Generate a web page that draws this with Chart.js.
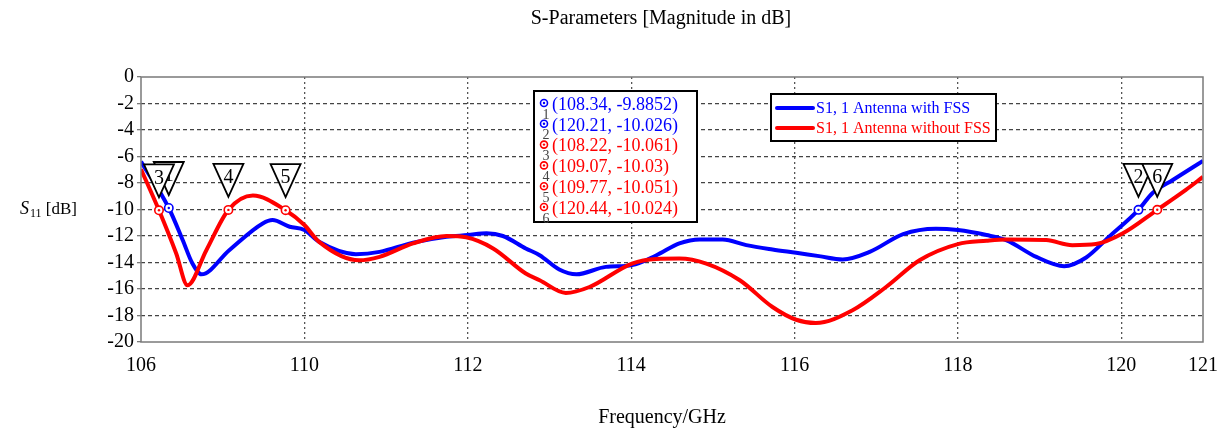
<!DOCTYPE html>
<html>
<head>
<meta charset="utf-8">
<script src="https://cdn.jsdelivr.net/npm/chart.js@4/dist/chart.umd.min.js"></script>
<style>
  html, body { margin: 0; padding: 0; background: #fff; }
  #wrap { width: 1225px; height: 432px; }
</style>
</head>
<body>
<div id="wrap"><canvas id="c" width="1225" height="432"></canvas></div>
<script>
// S11 of the antenna with the FSS layer
const freqWithFSS = [108.0, 108.34, 108.51, 108.63, 108.74, 109.08, 109.49, 109.61, 109.82, 110.0,
  110.18, 110.63, 110.92, 111.33, 111.74, 112.0, 112.23, 112.43, 112.71, 112.88,
  113.12, 113.33, 113.69, 114.01, 114.31, 114.59, 114.84, 115.12, 115.41, 115.73,
  116.02, 116.3, 116.59, 116.92, 117.33, 117.73, 118.0, 118.35, 118.59, 118.96,
  119.3, 119.57, 119.85, 120.21, 120.38, 120.63, 121.0];
const s11WithFSS = [-6.38, -9.8852, -12.3, -14.08, -14.89, -13.07, -11.05, -10.8, -11.3, -11.55,
  -12.44, -13.37, -13.2, -12.5, -12.06, -11.93, -11.8, -12.0, -12.94, -13.45,
  -14.53, -14.89, -14.33, -14.2, -13.45, -12.56, -12.26, -12.26, -12.69, -13.02,
  -13.27, -13.52, -13.77, -13.2, -11.86, -11.45, -11.55, -11.93, -12.31, -13.58,
  -14.28, -13.62, -12.06, -10.026, -8.77, -7.77, -6.33];

// S11 of the bare antenna
const freqNoFSS = [108.0, 108.22, 108.43, 108.57, 108.8, 109.07, 109.37, 109.77, 110.0, 110.18,
  110.67, 110.92, 111.33, 111.74, 111.98, 112.31, 112.71, 112.88, 113.2, 113.49,
  114.01, 114.31, 114.59, 114.92, 115.33, 115.73, 116.02, 116.26, 116.71, 117.12,
  117.53, 118.0, 118.35, 118.59, 119.08, 119.4, 119.69, 120.02, 120.44, 120.79, 121.0];
const s11NoFSS = [-6.96, -10.061, -13.3, -15.72, -13.07, -10.03, -8.95, -10.051, -11.17, -12.44,
  -13.83, -13.57, -12.56, -12.0, -12.1, -12.94, -14.83, -15.34, -16.3, -15.85,
  -14.08, -13.73, -13.7, -14.08, -15.34, -17.36, -18.32, -18.57, -17.6, -15.85,
  -13.83, -12.61, -12.36, -12.26, -12.31, -12.69, -12.61, -11.8, -10.024, -8.52, -7.54];

const seriesLabels = ['S1, 1 Antenna with FSS', 'S1, 1 Antenna without FSS'];
const seriesColors = ['#0000ff', '#ff0000'];

// -10 dB crossing markers
const markerIds = [1, 2, 3, 4, 5, 6];
const markerFreq = [108.34, 120.21, 108.22, 109.07, 109.77, 120.44];
const markerS11 = [-9.8852, -10.026, -10.061, -10.03, -10.051, -10.024];
const markerSeries = [0, 0, 1, 1, 1, 1];

// axis ticks
const xTickValues = [108, 110, 112, 114, 116, 118, 120, 121];
const xTickLabels = ['106', '110', '112', '114', '116', '118', '120', '121'];
const xRange = [108, 121];
const yRange = [-20, 0];
const yStep = 2;

const chartTitle = 'S-Parameters [Magnitude in dB]';
const xTitle = 'Frequency/GHz';
const yTitleParts = ['S', '11', ' [dB]'];

const SERIF = "'Liberation Serif', 'Times New Roman', serif";
Chart.defaults.font.family = SERIF;
Chart.defaults.color = '#000';

function toPoints(xs, ys) { return xs.map((x, i) => ({ x: x, y: ys[i] })); }

function drawMarkerDot(ctx, x, y, color, r) {
  ctx.beginPath();
  ctx.arc(x, y, r, 0, Math.PI * 2);
  ctx.fillStyle = '#fff';
  ctx.fill();
  ctx.lineWidth = 1.6;
  ctx.strokeStyle = color;
  ctx.stroke();
  ctx.beginPath();
  ctx.arc(x, y, 1.2, 0, Math.PI * 2);
  ctx.fillStyle = color;
  ctx.fill();
}

function drawFlag(ctx, x, y, id) {
  const w = 30, h = 33, gap = 13;
  const tipY = y - gap, topY = tipY - h;
  ctx.beginPath();
  ctx.moveTo(x - w / 2, topY);
  ctx.lineTo(x + w / 2, topY);
  ctx.lineTo(x, tipY);
  ctx.closePath();
  ctx.fillStyle = '#fff';
  ctx.fill();
  ctx.lineWidth = 1.8;
  ctx.strokeStyle = '#000';
  ctx.stroke();
  ctx.fillStyle = '#000';
  ctx.font = '20px ' + SERIF;
  ctx.textAlign = 'center';
  ctx.textBaseline = 'middle';
  ctx.fillText(String(id), x, topY + 14);
}

const decor = {
  id: 'decor',
  beforeDraw(chart) {
    const ctx = chart.ctx;
    ctx.save();
    ctx.fillStyle = '#fff';
    ctx.fillRect(0, 0, chart.width, chart.height);
    ctx.restore();
  },
  afterDatasetsDraw(chart) {
    const ctx = chart.ctx;
    const a = chart.chartArea;
    const xs = chart.scales.x, ys = chart.scales.y;
    ctx.save();

    // plot frame
    ctx.strokeStyle = '#7a7a7a';
    ctx.lineWidth = 1.5;
    ctx.setLineDash([]);
    ctx.strokeRect(a.left, a.top, a.right - a.left, a.bottom - a.top);

    // flags then marker dots
    markerIds.forEach((id, i) => {
      drawFlag(ctx, xs.getPixelForValue(markerFreq[i]), ys.getPixelForValue(markerS11[i]), id);
    });
    markerIds.forEach((id, i) => {
      drawMarkerDot(ctx, xs.getPixelForValue(markerFreq[i]), ys.getPixelForValue(markerS11[i]),
        seriesColors[markerSeries[i]], 4.2);
    });

    // marker readout table
    const bx = 534, by = 91, bw = 163, bh = 131, row = 20.8;
    ctx.fillStyle = '#fff';
    ctx.fillRect(bx, by, bw, bh);
    ctx.lineWidth = 2;
    ctx.strokeStyle = '#000';
    ctx.strokeRect(bx, by, bw, bh);
    markerIds.forEach((id, i) => {
      const cy = by + 13 + i * row;
      const col = seriesColors[markerSeries[i]];
      drawMarkerDot(ctx, bx + 10, cy - 1, col, 3.5);
      ctx.fillStyle = '#444';
      ctx.font = '14px ' + SERIF;
      ctx.textAlign = 'center';
      ctx.textBaseline = 'middle';
      ctx.fillText(String(id), bx + 12, cy + 11);
      ctx.fillStyle = col;
      ctx.font = '18px ' + SERIF;
      ctx.textAlign = 'left';
      ctx.fillText('(' + markerFreq[i] + ', ' + markerS11[i] + ')', bx + 18, cy + 1);
    });

    // legend box
    const lx = 771, ly = 94, lw = 225, lh = 47;
    ctx.fillStyle = '#fff';
    ctx.fillRect(lx, ly, lw, lh);
    ctx.lineWidth = 2;
    ctx.strokeStyle = '#000';
    ctx.strokeRect(lx, ly, lw, lh);
    seriesLabels.forEach((lab, i) => {
      const cy = ly + 14 + i * 20;
      ctx.strokeStyle = seriesColors[i];
      ctx.lineWidth = 4;
      ctx.lineCap = 'round';
      ctx.beginPath();
      ctx.moveTo(lx + 6, cy);
      ctx.lineTo(lx + 42, cy);
      ctx.stroke();
      ctx.fillStyle = seriesColors[i];
      ctx.font = '16px ' + SERIF;
      ctx.textAlign = 'left';
      ctx.textBaseline = 'middle';
      ctx.fillText(lab, lx + 45, cy + 1);
    });

    // titles
    ctx.fillStyle = '#000';
    ctx.textBaseline = 'middle';
    ctx.textAlign = 'center';
    ctx.font = '20px ' + SERIF;
    ctx.fillText(chartTitle, 661, 19);
    ctx.fillText(xTitle, 662, 418);

    // y-axis title with subscript
    ctx.textAlign = 'left';
    ctx.textBaseline = 'alphabetic';
    let tx = 20;
    const base = 214;
    ctx.font = 'italic 18px ' + SERIF;
    ctx.fillText(yTitleParts[0], tx, base);
    tx += ctx.measureText(yTitleParts[0]).width + 1;
    ctx.font = '12px ' + SERIF;
    ctx.fillText(yTitleParts[1], tx, base + 3);
    tx += ctx.measureText(yTitleParts[1]).width;
    ctx.font = '17px ' + SERIF;
    ctx.fillText(yTitleParts[2], tx, base);

    ctx.restore();
  }
};

const edgeX = v => v === xRange[0] || v === xRange[1];
const edgeY = v => v === yRange[0] || v === yRange[1];

new Chart(document.getElementById('c'), {
  type: 'line',
  data: {
    datasets: [
      {
        label: seriesLabels[0],
        data: toPoints(freqWithFSS, s11WithFSS),
        borderColor: seriesColors[0],
        borderWidth: 4,
        pointRadius: 0,
        cubicInterpolationMode: 'monotone',
        fill: false,
        order: 1
      },
      {
        label: seriesLabels[1],
        data: toPoints(freqNoFSS, s11NoFSS),
        borderColor: seriesColors[1],
        borderWidth: 4,
        pointRadius: 0,
        cubicInterpolationMode: 'monotone',
        fill: false,
        order: 0
      }
    ]
  },
  options: {
    responsive: false,
    animation: false,
    devicePixelRatio: 1,
    layout: { padding: { top: 77, right: 22, bottom: 0, left: 0 } },
    plugins: {
      legend: { display: false },
      tooltip: { enabled: false },
      title: { display: false }
    },
    scales: {
      x: {
        type: 'linear',
        min: xRange[0],
        max: xRange[1],
        afterBuildTicks: s => { s.ticks = xTickValues.map(v => ({ value: v })); },
        afterFit: s => { s.height = 90; s.paddingLeft = 0; s.paddingRight = 0; },
        ticks: {
          autoSkip: false,
          maxRotation: 0,
          padding: 12,
          font: { size: 20 },
          color: '#000',
          callback: v => xTickLabels[xTickValues.indexOf(v)]
        },
        grid: {
          drawTicks: false,
          lineWidth: 1.3,
          color: c => (c.tick && edgeX(c.tick.value)) ? 'rgba(0,0,0,0)' : '#555'
        },
        border: { display: false, dash: [2, 3] }
      },
      y: {
        min: yRange[0],
        max: yRange[1],
        afterFit: s => { s.width = 141; s.paddingTop = 0; s.paddingBottom = 0; },
        ticks: {
          stepSize: yStep,
          autoSkip: false,
          padding: 3,
          font: { size: 20 },
          color: '#000'
        },
        grid: {
          lineWidth: 1.3,
          tickLength: 4,
          tickColor: '#7a7a7a',
          tickBorderDash: [],
          color: c => (c.tick && edgeY(c.tick.value)) ? 'rgba(0,0,0,0)' : '#444'
        },
        border: { display: false, dash: [4, 3] }
      }
    }
  },
  plugins: [decor]
});
</script>
</body>
</html>
